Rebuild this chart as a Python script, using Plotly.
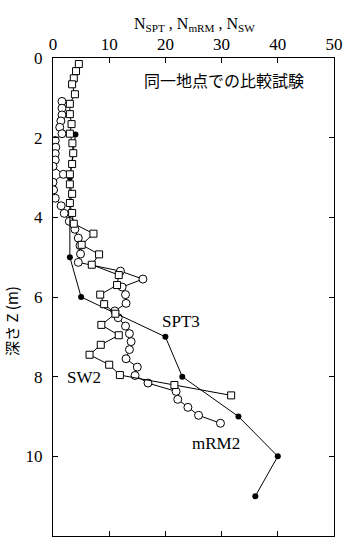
import plotly.graph_objects as go

# SPT3 (filled circles)
spt_depth = [1.92, 3.0, 5.0, 6.0, 7.0, 8.0, 9.0, 10.0, 11.0]
spt_n = [4.0, 3.0, 3.0, 5.0, 20.0, 23.0, 33.0, 40.0, 36.0]

# mRM2 (open circles)
mrm_depth = [1.09, 1.26, 1.43, 1.58, 1.74, 1.90, 2.07, 2.24, 2.40, 2.56, 2.72, 2.92,
             3.12, 3.31, 3.52, 3.71, 3.90, 4.10, 4.30, 4.52, 4.71, 4.92, 5.13, 5.35,
             5.55, 5.75, 5.94, 6.16, 6.35, 6.52, 6.73, 6.92, 7.12, 7.32, 7.55, 7.76,
             7.97, 8.16, 8.37, 8.57, 8.77, 8.97, 9.17]
mrm_n = [1.6, 1.6, 1.6, 1.4, 1.2, 1.6, 0.4, 0.5, 0.4, 0.4, 0.0, 1.85,
         0.0, 0.1, 0.4, 1.45, 2.0, 2.9, 3.9, 4.5, 4.8, 4.9, 4.5, 12.0,
         16.0, 12.3, 12.9, 13.0, 11.0, 11.6, 12.9, 13.6, 13.9, 13.6, 13.0, 15.0,
         14.6, 16.9, 21.9, 22.2, 24.0, 25.9, 29.8]

# SW2 (open squares)
sw_depth = [0.15, 0.33, 0.51, 0.66, 0.91, 1.15, 1.41, 1.66, 1.90, 2.14, 2.39, 2.66,
            2.92, 3.17, 3.41, 3.64, 3.89, 4.16, 4.41, 4.69, 4.93, 5.19, 5.45, 5.70,
            5.94, 6.18, 6.42, 6.70, 6.96, 7.20, 7.45, 7.70, 7.96, 8.21, 8.47]
sw_n = [4.6, 4.1, 3.7, 3.4, 3.9, 3.0, 3.0, 3.3, 3.0, 3.45, 3.6, 3.4,
        3.0, 3.0, 3.4, 3.0, 3.4, 3.7, 7.2, 5.1, 8.2, 6.9, 11.7, 11.4,
        8.4, 9.1, 11.1, 8.6, 11.7, 8.5, 6.5, 10.0, 11.9, 21.6, 31.7]

x_ticks = [0, 10, 20, 30, 40, 50]
y_ticks = [0, 2, 4, 6, 8, 10, 12]

serif = "Liberation Serif"

fig = go.Figure()
fig.add_trace(go.Scatter(
    x=mrm_n, y=mrm_depth, mode="lines+markers", name="mRM2",
    line=dict(color="black", width=1),
    marker=dict(symbol="circle", size=8, color="white",
                line=dict(color="black", width=1))))
fig.add_trace(go.Scatter(
    x=spt_n, y=spt_depth, mode="lines+markers", name="SPT3",
    line=dict(color="black", width=1),
    marker=dict(symbol="circle", size=6, color="black")))
fig.add_trace(go.Scatter(
    x=sw_n, y=sw_depth, mode="lines+markers", name="SW2",
    line=dict(color="black", width=1),
    marker=dict(symbol="square", size=7, color="white",
                line=dict(color="black", width=1))))

fig.update_layout(
    width=350, height=544,
    margin=dict(l=53, r=10, t=58, b=7),
    paper_bgcolor="white", plot_bgcolor="white",
    showlegend=False,
    font=dict(family=serif, size=16, color="black"),
    xaxis=dict(side="top", range=[0, 50], tickvals=x_ticks,
               ticktext=[str(v) for v in x_ticks],
               ticks="inside", ticklen=5, tickcolor="black",
               showline=True, linecolor="black", linewidth=1,
               mirror="ticks", showgrid=False, zeroline=False,
               ticklabelstandoff=0,
               tickfont=dict(family=serif, size=17)),
    yaxis=dict(range=[12, 0], tickvals=y_ticks,
               ticktext=[str(v) for v in y_ticks],
               ticks="inside", ticklen=5, tickcolor="black",
               showline=True, linecolor="black", linewidth=1,
               mirror="ticks", showgrid=False, zeroline=False,
               ticklabelstandoff=6,
               tickfont=dict(family=serif, size=17)),
    annotations=[
        dict(text="N<sub>SPT</sub> , N<sub>mRM</sub> , N<sub>SW</sub>",
             xref="paper", yref="paper", x=0.502, y=1, yshift=45,
             showarrow=False, font=dict(family=serif, size=16)),
        dict(text="深さ Z (m)", xref="paper", yref="y", x=0, y=6.6,
             xshift=-41, xanchor="center", yanchor="middle",
             textangle=-90, showarrow=False,
             font=dict(family="Noto Sans CJK JP", size=15)),
        dict(text="同一地点での比較試験", xref="x", yref="y", x=30.4, y=0.55,
             showarrow=False,
             font=dict(family="Noto Sans CJK JP", size=16)),
        dict(text="SPT3", xref="x", yref="y", x=22.7, y=6.62,
             showarrow=False, font=dict(family=serif, size=17)),
        dict(text="SW2", xref="x", yref="y", x=5.5, y=8.02,
             showarrow=False, font=dict(family=serif, size=17)),
        dict(text="mRM2", xref="x", yref="y", x=29.0, y=9.67,
             showarrow=False, font=dict(family=serif, size=17)),
    ],
)

fig.write_html("out.html", config={"displayModeBar": False},
               post_script="document.body.style.margin='0';")
